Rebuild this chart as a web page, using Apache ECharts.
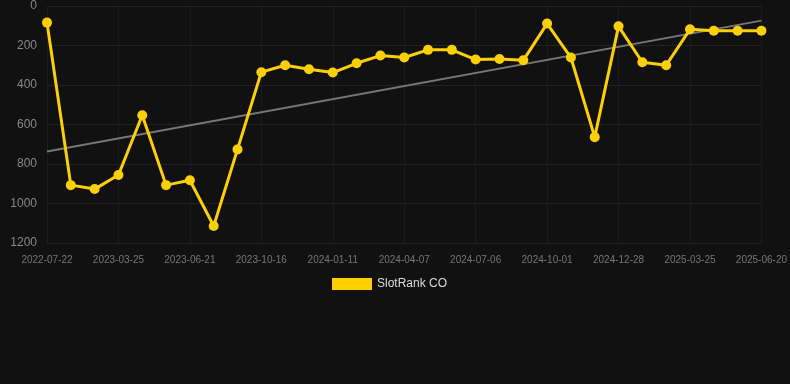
<!DOCTYPE html>
<html><head><meta charset="utf-8">
<script src="https://cdn.jsdelivr.net/npm/echarts@6/dist/echarts.min.js"></script>
<style>html,body{margin:0;padding:0;background:#111111;}#c{width:790px;height:384px;}</style>
</head><body><div id="c"></div>
<script>
const categories = ['2022-07-22','2022-10-15','2023-01-03','2023-03-25','2023-04-23','2023-05-22','2023-06-21','2023-07-21','2023-08-18','2023-10-16','2023-11-14','2023-12-13','2024-01-11','2024-02-09','2024-03-09','2024-04-07','2024-05-07','2024-06-06','2024-07-06','2024-08-04','2024-09-02','2024-10-01','2024-10-30','2024-11-28','2024-12-28','2025-01-26','2025-02-24','2025-03-25','2025-04-23','2025-05-22','2025-06-20'];
const rankValues = [84,907,927,856,553,907,882,1114,726,335,300,320,337,290,251,261,222,222,271,268,275,89,261,664,103,285,300,118,125,125,125];
const trendEnds = [737,74];
const seriesName = 'SlotRank CO';
const trend = categories.map((c,i)=> i===0 ? trendEnds[0] : (i===categories.length-1 ? trendEnds[1] : null));
const chart = echarts.init(document.getElementById('c'));
chart.setOption({
  backgroundColor:'#111111',
  animation:false,
  grid:{left:47,right:28,top:6,bottom:141},
  legend:{data:[seriesName],top:273,left:327,itemWidth:40,itemHeight:12,icon:'rect',itemGap:10,
    textStyle:{color:'#dddddd',fontSize:12,fontFamily:'Arial, Liberation Sans, sans-serif'}},
  xAxis:{type:'category',data:categories,boundaryGap:false,
    axisLine:{show:false},axisTick:{show:false},
    axisLabel:{interval:2,color:'#777777',fontSize:10,margin:12,fontFamily:'Arial, Liberation Sans, sans-serif'},
    splitLine:{show:true,interval:2,lineStyle:{color:'#1c1c1c',width:1}}},
  yAxis:{type:'value',inverse:true,min:0,max:1200,interval:200,
    axisLine:{show:false},axisTick:{show:false},
    axisLabel:{color:'#888888',fontSize:12,margin:10,formatter:v=>String(v),fontFamily:'Arial, Liberation Sans, sans-serif'},
    splitLine:{lineStyle:{color:'#222222',width:1}}},
  series:[
    {name:seriesName,type:'line',data:rankValues,symbol:'circle',symbolSize:10,
     itemStyle:{color:'#FFD000'},lineStyle:{color:'#FFD000',width:3},z:3},
    {name:'trend',type:'line',data:trend,connectNulls:true,symbol:'none',
     lineStyle:{color:'#777777',width:2},z:2,silent:true}
  ]
});
</script></body></html>
